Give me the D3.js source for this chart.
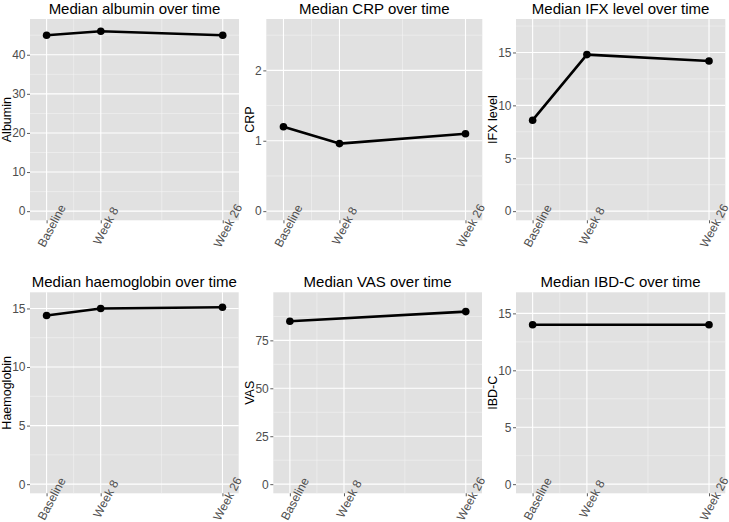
<!DOCTYPE html>
<html>
<head>
<meta charset="utf-8">
<script src="https://cdn.jsdelivr.net/npm/d3@7"></script>
<style>
  html, body { margin: 0; padding: 0; background: #ffffff; }
  svg { display: block; font-family: "Liberation Sans", Arial, sans-serif; }
</style>
</head>
<body>
<svg id="chart" width="729" height="522"></svg>
<script>
// ---- data ----
const weeks = [0, 8, 26];
const timeLabels = ["Baseline", "Week 8", "Week 26"];

const titles = ["Median albumin over time", "Median CRP over time", "Median IFX level over time",
                "Median haemoglobin over time", "Median VAS over time", "Median IBD-C over time"];
const yTitles = ["Albumin", "CRP", "IFX level", "Haemoglobin", "VAS", "IBD-C"];

const albumin     = [45, 46, 45];
const crp         = [1.2, 0.96, 1.1];
const ifx         = [8.6, 14.8, 14.2];
const haemoglobin = [14.4, 15.0, 15.1];
const vas         = [85, null, 90];
const ibdc        = [14, null, 14];

const yLimitMax = [46.8, 2.6, 17.3, 15.6, 95.3, 16.05];
const yTickValues = [
  [0, 10, 20, 30, 40],
  [0, 1, 2],
  [0, 5, 10, 15],
  [0, 5, 10, 15],
  [0, 25, 50, 75],
  [0, 5, 10, 15]
];
const xLimits = [-2.45, 28.4];

const seriesList = [albumin, crp, ifx, haemoglobin, vas, ibdc];

// ---- layout ----
const panels = [
  { cellX: 0,   left: 30,    right: 239,   top: 19,  bottom: 220.3, titleY: 14 },
  { cellX: 243, left: 266.3, right: 482.3, top: 19,  bottom: 220.3, titleY: 14 },
  { cellX: 486, left: 516,   right: 725.3, top: 19,  bottom: 220.3, titleY: 14 },
  { cellX: 0,   left: 30,    right: 238.7, top: 292.3, bottom: 493.3, titleY: 287 },
  { cellX: 243, left: 273.3, right: 482,   top: 292.3, bottom: 493.3, titleY: 287 },
  { cellX: 486, left: 516,   right: 725.3, top: 292.3, bottom: 493.3, titleY: 287 }
];

const svg = d3.select("#chart");

function midpoints(arr, lo, hi) {
  const out = [];
  const step0 = arr[1] - arr[0];
  const ext = [arr[0] - step0, ...arr, arr[arr.length - 1] + (arr[arr.length - 1] - arr[arr.length - 2])];
  for (let i = 0; i < ext.length - 1; i++) {
    const m = (ext[i] + ext[i + 1]) / 2;
    if (m >= lo && m <= hi) out.push(m);
  }
  return out;
}

panels.forEach((p, i) => {
  const values = seriesList[i];
  const ymax = yLimitMax[i];
  const pad = ymax * 0.05;
  const yDom = [-pad, ymax + pad];

  const x = d3.scaleLinear().domain(xLimits).range([p.left, p.right]);
  const y = d3.scaleLinear().domain(yDom).range([p.bottom, p.top]);

  const g = svg.append("g");

  // panel background
  g.append("rect")
    .attr("x", p.left).attr("y", p.top)
    .attr("width", p.right - p.left).attr("height", p.bottom - p.top)
    .attr("fill", "#e1e1e1");

  // minor grid
  const yMinor = midpoints(yTickValues[i], yDom[0], yDom[1]);
  const xMinor = midpoints(weeks, xLimits[0], xLimits[1]);
  g.selectAll(".ymin").data(yMinor).enter().append("line")
    .attr("x1", p.left).attr("x2", p.right)
    .attr("y1", d => y(d)).attr("y2", d => y(d))
    .attr("stroke", "#f4f4f4").attr("stroke-width", 0.6);
  g.selectAll(".xmin").data(xMinor).enter().append("line")
    .attr("y1", p.top).attr("y2", p.bottom)
    .attr("x1", d => x(d)).attr("x2", d => x(d))
    .attr("stroke", "#f4f4f4").attr("stroke-width", 0.6);

  // major grid
  g.selectAll(".ymaj").data(yTickValues[i]).enter().append("line")
    .attr("x1", p.left).attr("x2", p.right)
    .attr("y1", d => y(d)).attr("y2", d => y(d))
    .attr("stroke", "#ffffff").attr("stroke-width", 1.1);
  g.selectAll(".xmaj").data(weeks).enter().append("line")
    .attr("y1", p.top).attr("y2", p.bottom)
    .attr("x1", d => x(d)).attr("x2", d => x(d))
    .attr("stroke", "#ffffff").attr("stroke-width", 1.1);

  // y axis (ticks + labels)
  const yAxis = d3.axisLeft(y).tickValues(yTickValues[i]).tickSize(3).tickPadding(1.5)
    .tickFormat(d3.format("d"));
  const ya = g.append("g").attr("transform", `translate(${p.left},0)`).call(yAxis);
  ya.select(".domain").remove();
  ya.selectAll(".tick line").attr("stroke", "#333333").attr("stroke-width", 0.8);
  ya.selectAll(".tick text")
    .attr("fill", "#4d4d4d")
    .style("font-size", "12px")
    .style("font-family", "'Liberation Sans', Arial, sans-serif");

  // x axis ticks
  const xAxis = d3.axisBottom(x).tickValues(weeks).tickSize(3).tickFormat("");
  const xa = g.append("g").attr("transform", `translate(0,${p.bottom})`).call(xAxis);
  xa.select(".domain").remove();
  xa.selectAll(".tick line").attr("stroke", "#333333").attr("stroke-width", 0.8);

  // rotated x labels
  g.selectAll(".xlab").data(weeks).enter().append("text")
    .attr("transform", (d) => `translate(${x(d) + 5},${p.bottom + 5.5}) rotate(-62)`)
    .attr("text-anchor", "middle")
    .attr("dy", "0.35em")
    .attr("fill", "#4d4d4d")
    .style("font-size", "12px")
    .text((d, k) => timeLabels[k]);

  // y title
  g.append("text")
    .attr("transform", `translate(${p.cellX + 7},${(p.top + p.bottom) / 2}) rotate(-90)`)
    .attr("text-anchor", "middle")
    .attr("dy", "0.35em")
    .attr("fill", "#000000")
    .style("font-size", "12.5px")
    .text(yTitles[i]);

  // title
  g.append("text")
    .attr("x", (p.left + p.right) / 2)
    .attr("y", p.titleY)
    .attr("text-anchor", "middle")
    .attr("fill", "#000000")
    .style("font-size", "15px")
    .text(titles[i]);

  // data
  const pts = weeks.map((w, k) => ({ w, v: values[k] })).filter(d => d.v !== null);
  const line = d3.line().x(d => x(d.w)).y(d => y(d.v));
  g.append("path")
    .datum(pts)
    .attr("d", line)
    .attr("fill", "none")
    .attr("stroke", "#000000")
    .attr("stroke-width", 2.6)
    .attr("stroke-linejoin", "round");
  g.selectAll(".pt").data(pts).enter().append("circle")
    .attr("cx", d => x(d.w)).attr("cy", d => y(d.v))
    .attr("r", 3.8)
    .attr("fill", "#000000");
});
</script>
</body>
</html>
